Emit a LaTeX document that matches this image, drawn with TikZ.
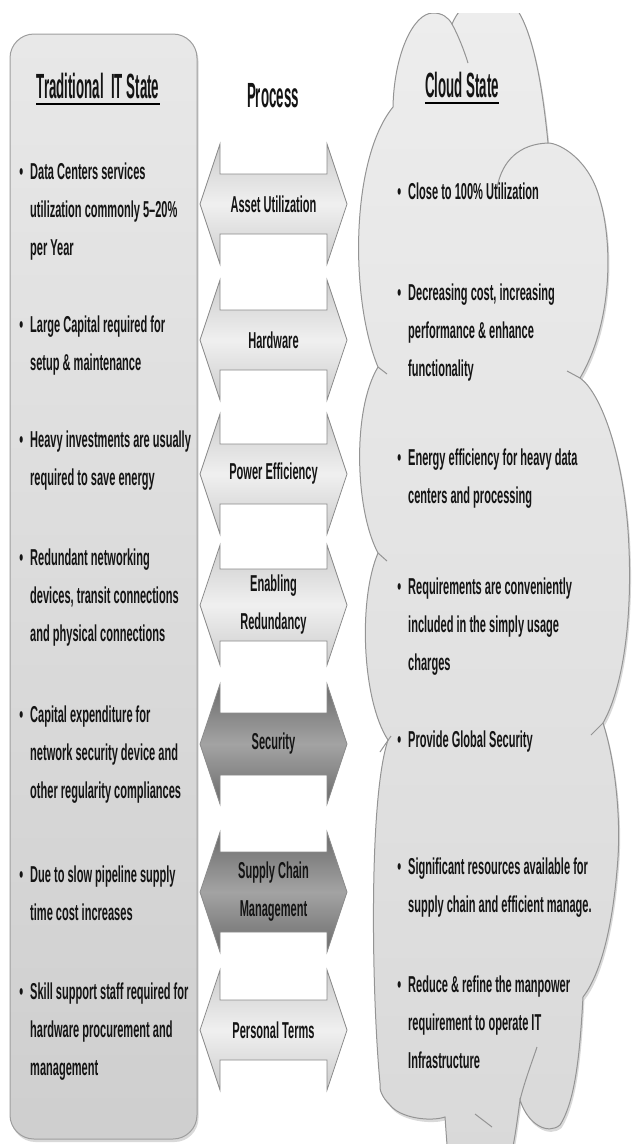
\documentclass[tikz,border=0pt]{standalone}
\usepackage{fontspec}
\usetikzlibrary{shadows}
\newfontfamily\narrowfont{Liberation Sans}[FakeStretch=0.48]
\newfontfamily\headfont{Liberation Sans}[FakeStretch=0.38]
\newcommand{\itembullet}{\llap{\textbullet\hspace{7pt}}}

\begin{document}
\begin{tikzpicture}[x=1pt, y=-1pt,
        every node/.style={inner sep=0pt, text=black!92},
        head text/.style={font=\headfont\bfseries\fontsize{35}{40}\selectfont, anchor=base},
        item text/.style={font=\narrowfont\bfseries\fontsize{23}{38}\selectfont, align=left, anchor=north west},
        arrow label/.style={font=\narrowfont\bfseries\fontsize{23}{38}\selectfont, align=center},
        process arrow/.style={draw=black!45, line width=0.8pt},
        panel/.style={draw=black!38, line width=1pt, top color=black!9, bottom color=black!19,
                      drop shadow={opacity=0.3, shadow xshift=1.5pt, shadow yshift=-3pt}},
        cloud/.style={draw=black!42, line width=1pt, top color=black!7, bottom color=black!15,
                      drop shadow={opacity=0.3, shadow xshift=1.5pt, shadow yshift=-3pt}},
        fold/.style={draw=black!42, line width=1pt}
                        ]
  \useasboundingbox (0,0) rectangle (632,1144);
  \clip (0,0) rectangle (632,1144);

  % left column
  \draw[panel, rounded corners=24pt] (10,34) rectangle (197,1139);

  % cloud column
  \begin{scope}
    \clip (0,13) rectangle (632,1144);
    \draw[cloud] (393,107) .. controls (394,55) and (413,13) .. (433,13)
      .. controls (442,13) and (448,17) .. (452,24)
      .. controls (462,0) and (482,-5) .. (500,-3)
      .. controls (525,0) and (540,60) .. (548,143)
      .. controls (560,143) and (590,160) .. (600,200)
      .. controls (612,240) and (614,320) .. (580,378)
      .. controls (600,392) and (622,450) .. (628,530)
      .. controls (634,620) and (622,690) .. (603,723)
      .. controls (615,760) and (622,820) .. (617,870)
      .. controls (612,930) and (600,975) .. (583,997)
      .. controls (580,1050) and (576,1100) .. (560,1125)
      .. controls (548,1135) and (528,1125) .. (520,1100)
      .. controls (516,1130) and (512,1160) .. (505,1175)
      -- (450,1175)
      .. controls (447,1150) and (446,1130) .. (445,1117)
      .. controls (430,1122) and (400,1118) .. (390,1105)
      .. controls (382,1097) and (379,1090) .. (380,1083)
      .. controls (372,1000) and (368,800) .. (388,740)
      .. controls (362,700) and (358,600) .. (378,553)
      .. controls (355,510) and (352,410) .. (378,367)
      .. controls (350,300) and (350,160) .. (393,107) -- cycle;
    % inner folds of the cloud
    \draw[fold] (452,24) .. controls (458,35) and (464,50) .. (468,63);
    \draw[fold] (497,188) .. controls (502,160) and (520,144) .. (548,143);
    \draw[fold] (580,378) -- (567,371);
    \draw[fold] (603,723) -- (591,735);
    \draw[fold] (520,1100) .. controls (525,1080) and (532,1062) .. (537,1047);
    \draw[fold] (475,1114) -- (492,1127);
    \draw[fold] (378,553) -- (387,561);
    \draw[fold] (378,367) -- (387,374);
    \draw[fold] (380,752) -- (391,736);
  \end{scope}

  % process arrows
  \foreach \yc/\hs/\edge/\core/\nm/\lbl in {
      204/30/20/6/asset/Asset Utilization,
      340/30/20/6/hardware/Hardware,
      474/30/20/6/power/Power Efficiency,
      605/36/20/6/redundancy/{Enabling\\Redundancy},
      744/31/58/36/security/Security,
      892/40/58/36/supply/{Supply Chain\\Management},
      1030/30/20/6/terms/Personal Terms}{
    \draw[process arrow, top color=black!\edge, bottom color=black!\edge, middle color=black!\core]
      (200,\yc) -- (220,\yc-60) -- (220,\yc-\hs) -- (327,\yc-\hs) -- (327,\yc-60)
      -- (347,\yc) -- (327,\yc+60) -- (327,\yc+\hs) -- (220,\yc+\hs) -- (220,\yc+60) -- cycle;
    \node[arrow label] (\nm) at (273.5,\yc) {\lbl};
  }

  % headings
  \node[head text] (tradtitle) at (98,98) {Traditional\ \ IT State};
  \node[head text] (process) at (273,107) {Process};
  \node[head text] (cloudtitle) at (462,97) {Cloud State};
  \draw[line width=2.5pt] ([yshift=-6pt]tradtitle.base west) -- ([yshift=-6pt]tradtitle.base east);
  \draw[line width=2.5pt] ([yshift=-6pt]cloudtitle.base west) -- ([yshift=-6pt]cloudtitle.base east);

  % traditional IT items
  \node[item text] (trad1) at (30,163) {\itembullet Data Centers services\\utilization commonly 5–20\%\\per Year};
  \node[item text] (trad2) at (30,316) {\itembullet Large Capital required for\\setup \& maintenance};
  \node[item text] (trad3) at (30,431) {\itembullet Heavy investments are usually\\required to save energy};
  \node[item text] (trad4) at (30,549) {\itembullet Redundant networking\\devices, transit connections\\and physical connections};
  \node[item text] (trad5) at (30,706) {\itembullet Capital expenditure for\\network security device and\\other regularity compliances};
  \node[item text] (trad6) at (30,866) {\itembullet Due to slow pipeline supply\\time cost increases};
  \node[item text] (trad7) at (30,983) {\itembullet Skill support staff required for\\hardware procurement and\\management};

  % cloud items
  \node[item text] (cloud1) at (408,183) {\itembullet Close to 100\% Utilization};
  \node[item text] (cloud2) at (408,284) {\itembullet Decreasing cost, increasing\\performance \& enhance\\functionality};
  \node[item text] (cloud3) at (408,449) {\itembullet Energy efficiency for heavy data\\centers and processing};
  \node[item text] (cloud4) at (408,578) {\itembullet Requirements are conveniently\\included in the simply usage\\charges};
  \node[item text] (cloud5) at (408,731) {\itembullet Provide Global Security};
  \node[item text] (cloud6) at (408,858) {\itembullet Significant resources available for\\supply chain and efficient manage.};
  \node[item text] (cloud7) at (408,976) {\itembullet Reduce \& refine the manpower\\requirement to operate IT\\Infrastructure};
\end{tikzpicture}
\end{document}
